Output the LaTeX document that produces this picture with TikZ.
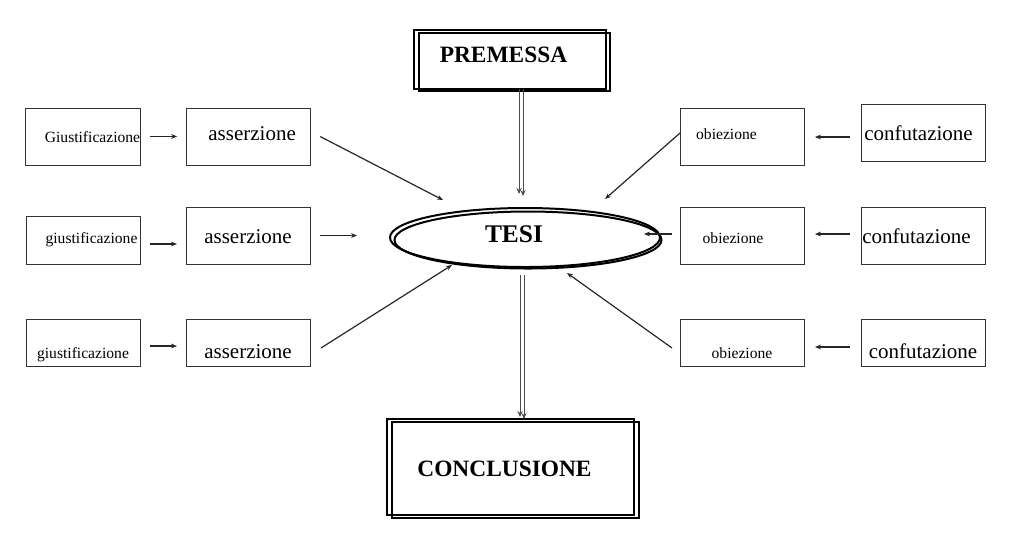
\documentclass[tikz,border=0pt]{standalone}
\usepackage{fontspec}
\setmainfont{Liberation Serif}
\usetikzlibrary{shapes.geometric, positioning, arrows.meta}

\newcommand{\bigtxt}{\fontsize{10.5}{12}\selectfont}
\newcommand{\smalltxt}{\fontsize{7.8}{9}\selectfont}
\newcommand{\headtxt}{\fontsize{11.7}{14}\selectfont\bfseries}

\begin{document}
\begin{tikzpicture}[
        x=0.5pt, y=-0.5pt,
        outer sep=0pt,
        box/.style={draw=black!80, line width=0.5pt, inner sep=0pt, text depth=0pt,
            minimum width=62pt, minimum height=28.5pt},
        low/.style={minimum height=23.5pt, text height=15.5pt},
        heavy/.style={draw=black, line width=1pt},
        frame/.style={heavy, inner sep=0pt, text depth=0pt},
        arr/.style={draw=black!85, line width=0.6pt, -{Stealth[length=3pt, width=2.4pt]}},
        dblarr/.style={draw=black!70, line width=0.5pt, -{Stealth[length=3pt, width=2.6pt]}},
    ]
    \useasboundingbox (0,0) rectangle (1024,548);

    % centre
    \node[frame, minimum width=96pt, minimum height=29.5pt, text height=2.5pt] at (510,59.5) (prem) {\headtxt PREMESSA\hspace*{6.5pt}};
    \draw[heavy] ([shift={(5,3)}]prem.north west) rectangle ([shift={(4,2)}]prem.south east);

    \node[ellipse, frame, minimum width=135pt, minimum height=29.5pt, text height=5pt] at (525,237.5) (tesi) {\fontsize{12.7}{15}\selectfont\bfseries TESI\hspace*{11pt}};
    \draw[heavy] ([shift={(3,2.5)}]tesi.center) ellipse [x radius=66.75pt, y radius=14.25pt];

    \node[frame, minimum width=123.5pt, minimum height=48pt, text height=9pt] at (510.5,467) (conc) {\headtxt CONCLUSIONE\hspace*{6pt}};
    \draw[heavy] ([shift={(5,3)}]conc.north west) rectangle ([shift={(5,3)}]conc.south east);

    % left side
    \node[box, minimum width=57pt, text height=5.5pt] at (83,136.5) (g1) {\smalltxt\hspace*{9.5pt}Giustificazione};
    \node[box, text height=3.5pt, right=23pt of g1] (a1) {\bigtxt\hspace*{4pt}asserzione};
    \node[box, minimum width=57pt, minimum height=24pt, text height=3pt] at (83,240) (g2) {\smalltxt\hspace*{8.5pt}giustificazione};
    \node[box, text height=7.5pt] at (248,235.5) (a2) {\bigtxt asserzione};
    \node[box, low, minimum width=57pt] at (83,342.5) (g3) {\smalltxt giustificazione};
    \node[box, low, right=23pt of g3] (a3) {\bigtxt asserzione};

    % right side
    \node[box, text height=2.5pt] at (742,136.5) (o1) {\smalltxt obiezione\hspace*{15.5pt}};
    \node[box, text height=7.5pt] at (923,132.5) (c1) {\bigtxt confutazione\hspace*{4.5pt}};
    \node[box, text height=7.5pt] at (742,235.5) (o2) {\smalltxt obiezione\hspace*{9pt}};
    \node[box, text height=7.5pt, right=28.5pt of o2] (c2) {\bigtxt confutazione\hspace*{6.5pt}};
    \node[box, low] at (742,342.5) (o3) {\smalltxt obiezione};
    \node[box, low, right=28.5pt of o3] (c3) {\bigtxt confutazione};

    \draw[arr, shorten <=5pt, shorten >=4.5pt] (g1.east) -- (a1.west);
    \draw[arr, shorten <=5pt, shorten >=4.5pt] ([yshift=-2pt]g2.east) -- ([yshift=-2pt]g2.east -| a2.west);
    \draw[arr, shorten <=5pt, shorten >=4.5pt] ([yshift=-1.75pt]g3.east) -- ([yshift=-1.75pt]a3.west);
    \draw[arr, shorten <=5.5pt, shorten >=5.5pt] ([yshift=-2.25pt]c1.west) -- ([yshift=-2.25pt]c1.west -| o1.east);
    \draw[arr, shorten <=5.5pt, shorten >=5.5pt] ([yshift=0.75pt]c2.west) -- ([yshift=0.75pt]o2.east);
    \draw[arr, shorten <=5.5pt, shorten >=5.5pt] ([yshift=-2.25pt]c3.west) -- ([yshift=-2.25pt]o3.east);

    % towards TESI
    \coordinate (t1) at (443,200);
    \coordinate (t2) at (357,235.5);
    \coordinate (t3) at (452,265);
    \coordinate (t4) at (605,199);
    \coordinate (t5) at (644,234);
    \coordinate (t6) at (567,273);
    \draw[arr] ([xshift=5pt]a1.east) -- (t1);
    \draw[arr] ([xshift=5pt]a2.east) -- (t2);
    \draw[arr] ([shift={(5.5pt,-2.75pt)}]a3.east) -- (t3);
    \draw[arr] ([yshift=1.75pt]o1.west) -- (t4);
    \draw[arr] ([shift={(-4pt,0.75pt)}]o2.west) -- (t5);
    \draw[arr] ([shift={(-4pt,-2.75pt)}]o3.west) -- (t6);

    % double arrows
    \draw[dblarr, shorten >=7pt] ([xshift=4.5pt]prem.south) -- ([xshift=4.5pt]prem.south |- tesi.north);
    \draw[dblarr, shorten >=6pt] ([xshift=6.5pt]prem.south) -- ([xshift=6.5pt]prem.south |- tesi.north);
    \draw[dblarr, shorten <=4pt, shorten >=1pt] ([xshift=-2.5pt]tesi.south) -- ([xshift=-2.5pt]tesi.south |- conc.north);
    \draw[dblarr, shorten <=4pt] ([xshift=-0.5pt]tesi.south) -- ([xshift=-0.5pt]tesi.south |- conc.north);
\end{tikzpicture}
\end{document}
